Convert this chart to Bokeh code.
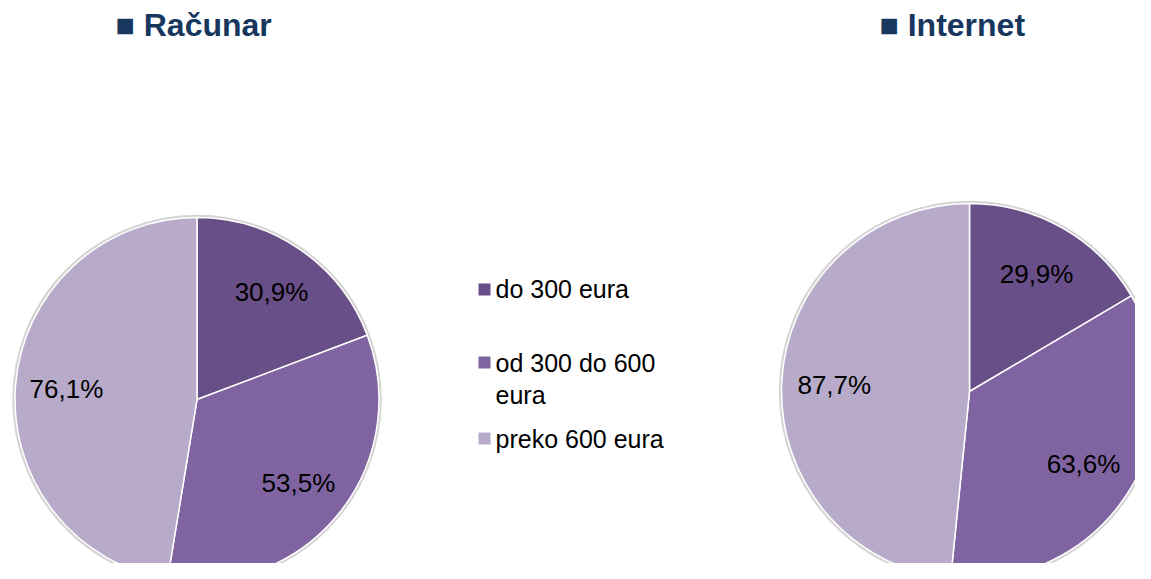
import math
from bokeh.plotting import figure
from bokeh.models import Range1d
from bokeh.embed import file_html
from bokeh.resources import INLINE
from bokeh.core.properties import value

# ---- data ----
categories = ["do 300 eura", "od 300 do 600\neura", "preko 600 eura"]
racunar = [30.9, 53.5, 76.1]
internet = [29.9, 63.6, 87.7]
titles = ["■ Računar", "■ Internet"]
colors = ["#694f87", "#8064a2", "#b7abc9"]

# ---- layout ----
W, H = 1135, 563
FONT = value("Liberation Sans")

p = figure(width=W, height=H, x_range=Range1d(0, W), y_range=Range1d(0, H),
           output_backend="svg", toolbar_location=None, min_border=0)
p.axis.visible = False
p.grid.visible = False
p.outline_line_color = None
p.background_fill_color = "white"
p.border_fill_color = "white"

pies = [(racunar, 196.5, 164, 182), (internet, 969, 172, 188)]
for vals, cx, cy, R in pies:
    total = sum(vals)
    starts, ends, lx, ly, labels = [], [], [], [], []
    cum = 0.0
    for v in vals:
        a0 = math.pi / 2 - 2 * math.pi * cum / total
        a1 = math.pi / 2 - 2 * math.pi * (cum + v) / total
        starts.append(a0)
        ends.append(a1)
        mid = (a0 + a1) / 2
        lx.append(cx + 0.72 * R * math.cos(mid))
        ly.append(cy + 0.72 * R * math.sin(mid))
        labels.append(f"{v:.1f}%".replace(".", ","))
        cum += v
    p.circle(x=[cx], y=[cy], radius=R + 1.5, fill_color=None,
             line_color="#d4d4d4", line_width=2.5)
    p.wedge(x=[cx] * 3, y=[cy] * 3, radius=R, start_angle=starts, end_angle=ends,
            direction="clock", fill_color=colors, line_color="white", line_width=1.5)
    p.text(x=lx, y=ly, text=labels, text_align="center", text_baseline="middle",
           text_font=FONT, text_font_size="26px", text_color="black")

# titles
p.text(x=[115, 879], y=[539, 539], text=titles, text_align="left", text_baseline="middle",
       text_font=FONT, text_font_size="32px", text_font_style="bold", text_color="#17375e")

# legend
p.rect(x=[484, 484, 484], y=[274, 201, 125], width=12, height=12,
       fill_color=colors, line_color=None)
p.text(x=[495, 495, 495], y=[275, 184.5, 125], text=categories, text_align="left",
       text_baseline="middle", text_font=FONT, text_font_size="25px",
       text_color="black", text_line_height=1.15)

open("out.html", "w").write(file_html(p, INLINE))
